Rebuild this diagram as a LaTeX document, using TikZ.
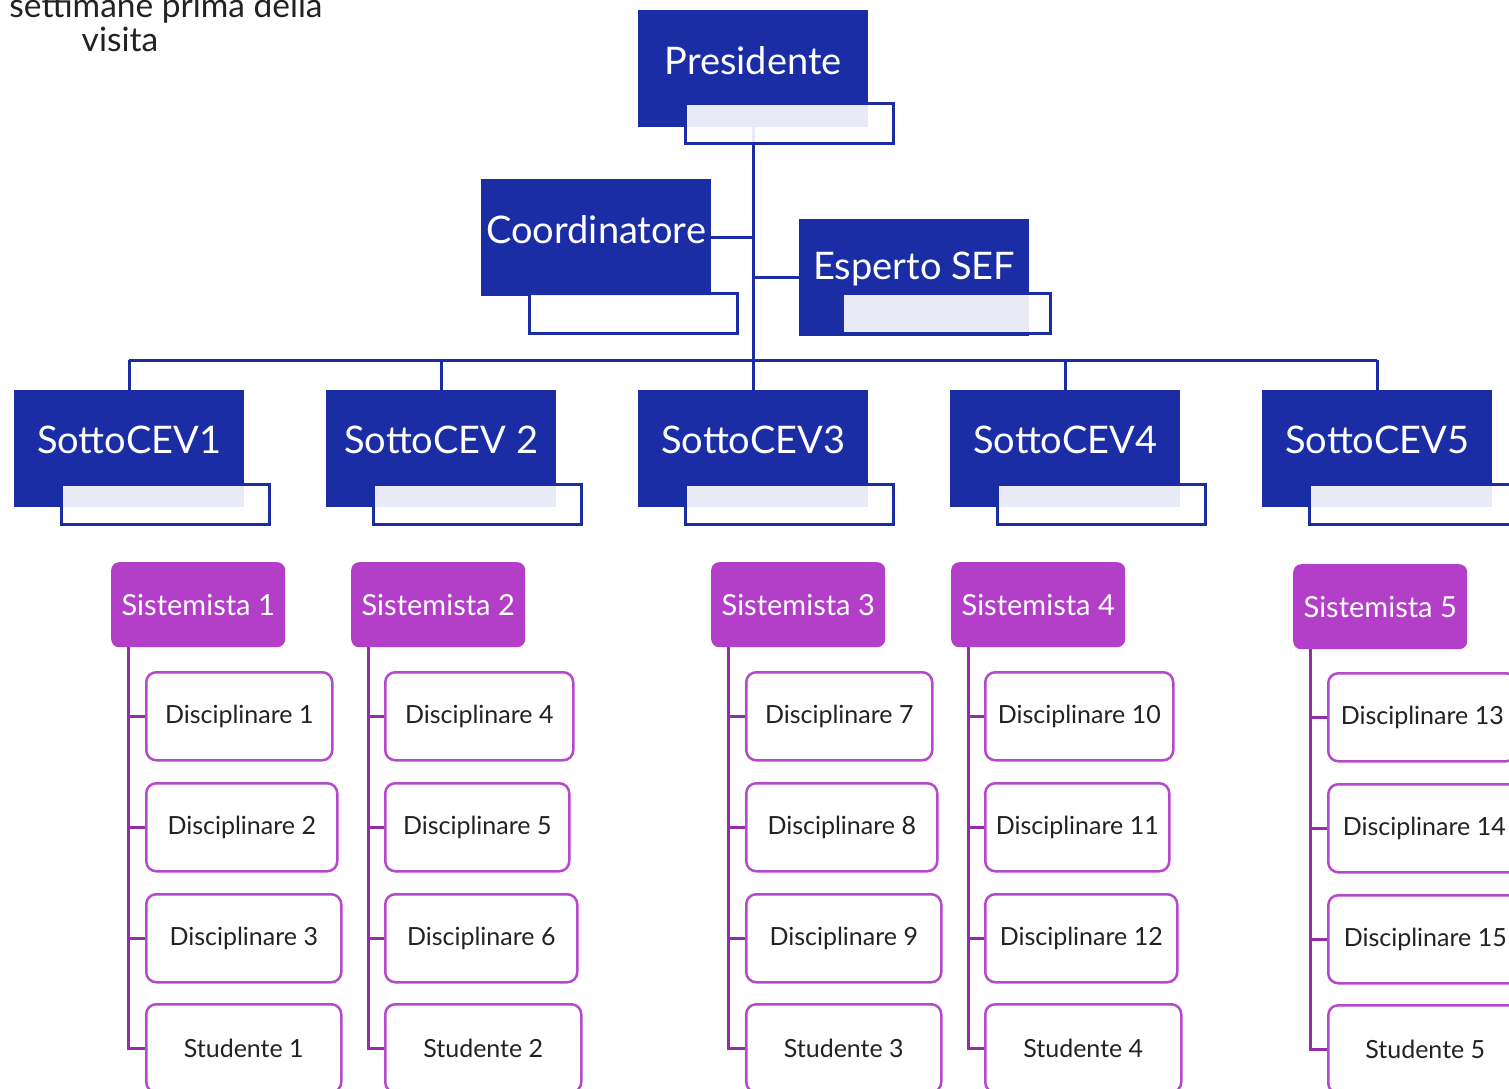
\documentclass[tikz,border=0pt]{standalone}
\usepackage{fontspec}
\setmainfont{Lato}
\usetikzlibrary{backgrounds}
\definecolor{cevblue}{RGB}{26,45,165}
\definecolor{sistpurple}{RGB}{179,62,199}
\definecolor{discborder}{RGB}{182,72,204}
\definecolor{spinepurple}{RGB}{150,45,168}
\definecolor{darktext}{RGB}{34,34,34}
\tikzset{
 bluebox/.style={rectangle, fill=cevblue, draw=none, inner sep=0pt, anchor=north west, minimum width=230pt, minimum height=117pt},
 overlaybox/.style={rectangle, draw=cevblue, line width=2.5pt, fill=white, fill opacity=0.9, inner sep=0pt, anchor=north west, minimum width=208pt, minimum height=40pt},
 bigtext/.style={text=white, font=\fontsize{38}{44}\selectfont, inner sep=0pt},
 toptext/.style={text=darktext, font=\fontsize{33.5}{38}\selectfont, inner sep=0pt, anchor=base},
 sistbox/.style={rectangle, rounded corners=8pt, fill=sistpurple, inner sep=0pt, anchor=north west, minimum width=174pt, minimum height=85pt, text=white, font=\fontsize{29}{35}\selectfont},
 discbox/.style={rectangle, rounded corners=10pt, draw=discborder, line width=2.5pt, fill=white, inner sep=0pt, anchor=north west, minimum height=88pt, text=darktext, font=\fontsize{25}{30}\selectfont},
 bluelink/.style={draw=cevblue, line width=3pt},
 purplelink/.style={draw=spinepurple, line width=3pt},
}
\begin{document}
\begin{tikzpicture}[x=1pt,y=-1pt]
\useasboundingbox (0,0) rectangle (1509,1088);
\clip (0,0) rectangle (1509,1088);

% top text
\node[toptext] (topa) at (166,17) {settimane prima della};
\node[toptext] (topb) at (120,51) {visita};

% Presidente
\node[bluebox] (pres) at (638,10) {};
\node[overlaybox] (preso) at (684,102) {};
\node[bigtext] (prest) at ([yshift=8.5pt]pres.center) {Presidente};

% Coordinatore
\node[bluebox] (coord) at (481,179) {};
\node[overlaybox] (coordo) at (528,292) {};
\node[bigtext] (coordt) at ([yshift=8.5pt]coord.center) {Coordinatore};

% Esperto SEF
\node[bluebox] (esp) at (799,219) {};
\node[overlaybox] (espo) at (841,292) {};
\node[bigtext] (espt) at ([yshift=8.5pt]esp.center) {Esperto SEF};

% SottoCEV
\foreach \i/\x/\lab in {1/14/SottoCEV1, 2/326/SottoCEV 2, 3/638/SottoCEV3, 4/950/SottoCEV4, 5/1262/SottoCEV5}{
  \node[bluebox] (s\i) at (\x,390) {};
  \node[overlaybox] (so\i) at (\x+46,483) {};
  \node[bigtext] (st\i) at ([yshift=8.5pt]s\i.center) {\lab};
}

\coordinate (bus) at (752,360);

% Sistemista
\node[sistbox] (sist1) at (111,562) {Sistemista 1};
\node[sistbox] (sist2) at (351,562) {Sistemista 2};
\node[sistbox] (sist3) at (711,562) {Sistemista 3};
\node[sistbox] (sist4) at (951,562) {Sistemista 4};
\node[sistbox] (sist5) at (1293,564) {Sistemista 5};

% group 1
\node[discbox, minimum width=186pt] (d1) at (145,671) {Disciplinare 1};
\node[discbox, minimum width=191pt] (d2) at (145,782) {Disciplinare 2};
\node[discbox, minimum width=195pt] (d3) at (145,893) {Disciplinare 3};
\node[discbox, minimum width=195pt] (stu1) at (145,1003) {Studente 1};
% group 2
\node[discbox, minimum width=188pt] (d4) at (384,671) {Disciplinare 4};
\node[discbox, minimum width=184pt] (d5) at (384,782) {Disciplinare 5};
\node[discbox, minimum width=192pt] (d6) at (384,893) {Disciplinare 6};
\node[discbox, minimum width=196pt] (stu2) at (384,1003) {Studente 2};
% group 3
\node[discbox, minimum width=186pt] (d7) at (745,671) {Disciplinare 7};
\node[discbox, minimum width=191pt] (d8) at (745,782) {Disciplinare 8};
\node[discbox, minimum width=195pt] (d9) at (745,893) {Disciplinare 9};
\node[discbox, minimum width=195pt] (stu3) at (745,1003) {Studente 3};
% group 4
\node[discbox, minimum width=188pt] (d10) at (984,671) {Disciplinare 10};
\node[discbox, minimum width=184pt] (d11) at (984,782) {Disciplinare 11};
\node[discbox, minimum width=192pt] (d12) at (984,893) {Disciplinare 12};
\node[discbox, minimum width=196pt] (stu4) at (984,1003) {Studente 4};
% group 5
\node[discbox, minimum width=188pt] (d13) at (1327,672) {Disciplinare 13};
\node[discbox, minimum width=192pt] (d14) at (1327,783) {Disciplinare 14};
\node[discbox, minimum width=194pt] (d15) at (1327,894) {Disciplinare 15};
\node[discbox, minimum width=194pt] (stu5) at (1327,1004) {Studente 5};

\begin{scope}[on background layer]
  \draw[bluelink] (pres.south) -- (pres.south |- bus);
  \draw[bluelink] (coord.east) -- (coord.east -| pres.south);
  \draw[bluelink] (esp.west -| pres.south) -- (esp.west);
  \draw[bluelink] (s1.north |- bus) -- (s5.north |- bus);
  \foreach \i in {1,...,5}{
    \draw[bluelink] (s\i.north |- bus) -- (s\i.north);
  }
  \foreach \s/\a/\b/\c/\d in {1/d1/d2/d3/stu1, 2/d4/d5/d6/stu2, 3/d7/d8/d9/stu3, 4/d10/d11/d12/stu4, 5/d13/d14/d15/stu5}{
    \draw[purplelink] ([xshift=17pt]sist\s.south west) |- (\d.west);
    \draw[purplelink] ([xshift=17pt]sist\s.south west) |- (\a.west);
    \draw[purplelink] ([xshift=17pt]sist\s.south west) |- (\b.west);
    \draw[purplelink] ([xshift=17pt]sist\s.south west) |- (\c.west);
  }
\end{scope}
\end{tikzpicture}
\end{document}
